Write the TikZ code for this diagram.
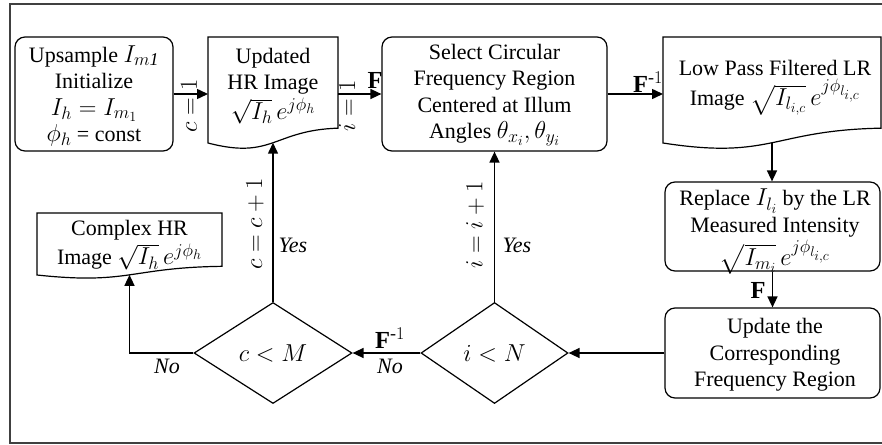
\RequirePackage{fix-cm}
\documentclass[tikz,border=0pt]{standalone}
\usepackage{amsmath}
\usepackage{fontspec}
\setmainfont{Liberation Serif}
\DeclareMathSizes{22}{24.5}{18}{14}
\usetikzlibrary{shapes.geometric,arrows.meta}

\tikzset{
  every node/.style={font=\fontsize{22}{26.5}\selectfont},
  procbox/.style={draw, rounded corners=10pt, line width=1.2pt, align=center, inner sep=0pt},
  decision/.style={draw, diamond, line width=1.2pt, inner sep=0pt},
  docline/.style={line width=1.2pt},
  boxtext/.style={align=center, inner sep=0pt},
  flow/.style={line width=1.5pt, -{Triangle[length=11pt,width=10pt]}},
  lbl/.style={inner sep=0pt},
}

% Document outline with a wavy bottom edge:
% #1 name, #2 left x, #3 top y, #4 right x, #5 bottom y at the left edge
\newcommand\docoutline[5]{%
  \pgfmathsetmacro\dochgt{#5-#3}%
  \pgfmathsetmacro\docmid{(#2+#4)/2}%
  \coordinate (#1-nw) at (#2,#3);
  \coordinate (#1-ne) at (#4,#3);
  \draw[docline] (#2,#3) -- (#4,#3) -- (#4,#5-0.14*\dochgt)
    .. controls (\docmid,#5-0.12*\dochgt) and (\docmid,#5+0.16*\dochgt) .. (#2,#5)
    coordinate[pos=0.5] (#1-w) -- cycle;
}

\begin{document}
\begin{tikzpicture}[x=1pt,y=-1pt]
\useasboundingbox (0,0) rectangle (882,444);
% outer frame
\draw[line width=1.2pt, black!75] (10,4) rectangle (900,443);

% top row
\node[procbox, minimum width=158pt, minimum height=114pt] (ups) at (94,94) {};
\node[boxtext] (upst) at (94,96)
  {Upsample $I_{m\mathit{1}}$\\Initialize\\$I_h = I_{m_1}$\\$\phi_h$ = const};

\docoutline{upd}{208}{37}{338}{143}
\node[boxtext] (updt) at (273,86) {Updated\\HR Image\\[3pt]$\sqrt{I_h}\,e^{j\phi_h}$};

\node[procbox, minimum width=225pt, minimum height=114pt] (sel) at (494.5,94) {};
\node[boxtext] (selt) at (494.5,95)
  {Select Circular\\Frequency Region\\Centered at Illum\\Angles $\theta_{x_i},\theta_{y_i}$};

\docoutline{lp}{663}{37}{881}{143}
\node[boxtext] (lpt) at (775,88)
  {Low Pass Filtered LR\\[3pt]Image $\sqrt{I_{l_{i,c}}}\,e^{j\phi_{l_{i,c}}}$};

% right column
\node[procbox, minimum width=215pt, minimum height=89pt] (rep) at (772.5,226.5) {};
\node[boxtext] (rept) at (775,232)
  {Replace $I_{l_i}$ by the LR\\Measured Intensity\\[2pt]$\sqrt{I_{m_i}}\,e^{j\phi_{l_{i,c}}}$};
\node[procbox, minimum width=215pt, minimum height=90pt] (upf) at (772.5,353) {};
\node[boxtext] (upft) at (775,355) {Update the\\Corresponding\\Frequency Region};

% decisions
\node[decision, minimum width=147pt, minimum height=101pt] (iN) at (494.5,353) {$i < N$};
\node[decision, minimum width=158pt, minimum height=101pt] (cM) at (273,353) {$c < M$};

% result
\docoutline{cx}{37}{213}{222}{275}
\node[boxtext] (cxt) at (129.5,245) {Complex HR\\[3pt]Image $\sqrt{I_h}\,e^{j\phi_h}$};

% connectors
\draw[flow] (ups.east) -- (ups.east -| upd-nw);
\draw[flow] (upd-ne |- ups.east) -- (sel.west);
\draw[flow] (sel.east) -- (sel.east -| lp-nw);
\draw[flow] (lp-w) -- (lp-w |- rep.north);
\draw[flow] (rep.south) -- (upf.north);
\draw[flow] (upf.west) -- (iN.east);
\draw[flow] (iN.west) -- (cM.east);
\draw[flow] (iN.north) -- (sel.south);
\draw[flow] (cM.north) -- (upd-w);
\draw[flow] (cM.west) -| (cx-w);

% connector labels
\node[lbl, rotate=90] (lc1) at (189,106) {$c = 1$};
\node[lbl, rotate=90] (li1) at (347,106) {$i = 1$};
\node[lbl] (lf1) at (375,80) {$\mathbf{F}$};
\node[lbl] (lf2) at (648,82) {$\mathbf{F}^{\text{-}1}$};
\node[lbl] (lf3) at (758,290) {$\mathbf{F}$};
\node[lbl] (lf4) at (390,338) {$\mathbf{F}^{\text{-}1}$};
\node[lbl] (lno1) at (390,366) {\textit{No}};
\node[lbl] (lno2) at (167,366) {\textit{No}};
\node[lbl, rotate=90] (linc) at (475,225) {$i = i + 1$};
\node[lbl] (lyes1) at (517,245) {\textit{Yes}};
\node[lbl, rotate=90] (lcinc) at (255,224) {$c = c + 1$};
\node[lbl] (lyes2) at (293,245) {\textit{Yes}};
\end{tikzpicture}
\end{document}
